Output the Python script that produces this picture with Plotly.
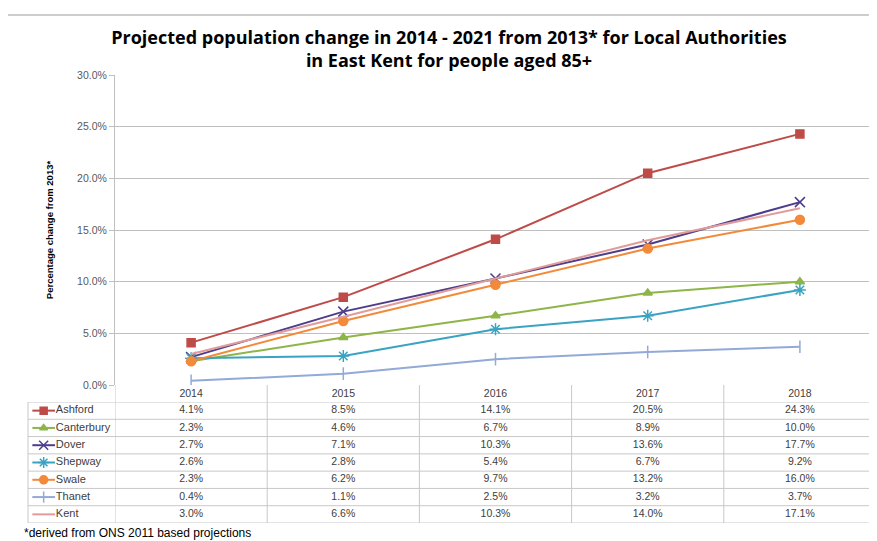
import plotly.graph_objects as go

years = ["2014", "2015", "2016", "2017", "2018"]
series_names = ["Ashford", "Canterbury", "Dover", "Shepway", "Swale", "Thanet", "Kent"]
ashford = [4.1, 8.5, 14.1, 20.5, 24.3]
canterbury = [2.3, 4.6, 6.7, 8.9, 10.0]
dover = [2.7, 7.1, 10.3, 13.6, 17.7]
shepway = [2.6, 2.8, 5.4, 6.7, 9.2]
swale = [2.3, 6.2, 9.7, 13.2, 16.0]
thanet = [0.4, 1.1, 2.5, 3.2, 3.7]
kent = [3.0, 6.6, 10.3, 14.0, 17.1]
y_ticks = [0, 5, 10, 15, 20, 25, 30]
title_text = "Projected population change in 2014 - 2021 from 2013* for Local Authorities<br>in East Kent for people aged 85+"
y_title = "Percentage change from 2013*"
footnote = "*derived from ONS 2011 based projections"

values = [ashford, canterbury, dover, shepway, swale, thanet, kent]
colors = ["#BE4B48", "#8DB548", "#4E3D8A", "#3AA3C2", "#F28A3A", "#93A9D8", "#E09C9A"]
symbols = ["square", "triangle-up", "x-thin-open", "asterisk-open", "circle", "line-ns-open", None]
msizes = [8, 8, 10, 10, 9, 9, 0]

W, H = 877, 541
OFF = 8  # page body margin
def px(x): return (x - OFF) / W
def py(y): return 1 - (y - OFF) / H

FONT = "Liberation Sans"
TFONT = "Open Sans"
TXT = "#404040"
GRID = "#BFBFBF"

fig = go.Figure()

for name, vals, c, s, ms in zip(series_names, values, colors, symbols, msizes):
    mode = "lines+markers" if s else "lines"
    mk = dict(color=c, size=ms, line=dict(color=c, width=1.5))
    if s:
        mk["symbol"] = s
    fig.add_trace(go.Scatter(x=years, y=vals, mode=mode, name=name,
                             line=dict(color=c, width=2), marker=mk,
                             showlegend=False, xaxis="x", yaxis="y"))

# table values
for i, (name, vals) in enumerate(zip(series_names, values)):
    fig.add_trace(go.Scatter(x=list(range(len(years))), y=[i] * len(years),
                             text=[f"{v:.1f}%" for v in vals], mode="text",
                             textfont=dict(family=FONT, size=10.5, color=TXT),
                             showlegend=False, xaxis="x2", yaxis="y2", hoverinfo="skip"))

# legend keys inside table
for i, (name, c, s, ms) in enumerate(zip(series_names, colors, symbols, msizes)):
    fig.add_trace(go.Scatter(x=[0.05, 0.31], y=[i, i], mode="lines",
                             line=dict(color=c, width=2), showlegend=False,
                             xaxis="x3", yaxis="y2", hoverinfo="skip"))
    if s:
        fig.add_trace(go.Scatter(x=[0.18], y=[i], mode="markers",
                                 marker=dict(color=c, size=max(ms - 1, 6), symbol=s,
                                             line=dict(color=c, width=1.5)),
                                 showlegend=False, xaxis="x3", yaxis="y2", hoverinfo="skip"))
    fig.add_trace(go.Scatter(x=[0.32], y=[i], text=[name], mode="text", textposition="middle right",
                             textfont=dict(family=FONT, size=11, color=TXT),
                             showlegend=False, xaxis="x3", yaxis="y2", hoverinfo="skip"))

shapes = []
line_c = "#C8C8C8"
shapes.append(dict(type="line", xref="paper", yref="paper", x0=0, x1=1, y0=py(15), y1=py(15),
                   line=dict(color="#BDBDBD", width=1.5)))
for k in range(len(series_names) + 1):
    shapes.append(dict(type="line", xref="paper", yref="y2", x0=px(28), x1=px(876),
                       y0=k - 0.5, y1=k - 0.5, line=dict(color=line_c, width=1)))
for k in range(len(years) + 1):
    shapes.append(dict(type="line", xref="x2", yref="paper", x0=k - 0.5, x1=k - 0.5,
                       y0=py(385), y1=py(523), line=dict(color=line_c, width=1)))
shapes.append(dict(type="line", xref="paper", yref="y2", x0=px(28), x1=px(28),
                   y0=-0.5, y1=len(series_names) - 0.5, line=dict(color=line_c, width=1)))

fig.update_layout(
    width=W, height=H,
    margin=dict(l=0, r=0, t=0, b=0, autoexpand=False),
    paper_bgcolor="white", plot_bgcolor="white",
    font=dict(family=FONT, size=9, color=TXT),
    title=dict(text=title_text, x=px(449), xanchor="center", y=py(44), yanchor="middle",
               font=dict(family=TFONT, size=18, color="#000000", weight="bold")),
    xaxis=dict(domain=[px(115), px(876)], range=[-0.5, 4.5], type="category",
               showgrid=False, showline=False, ticks="", zeroline=False,
               tickfont=dict(family=FONT, size=10.5, color=TXT), anchor="y", ticklabelstandoff=0),
    yaxis=dict(domain=[py(385), py(75)], range=[0, 30], tickvals=y_ticks,
               ticktext=[f"{v:.1f}%" for v in y_ticks],
               showgrid=True, gridcolor=GRID, gridwidth=1, zeroline=False,
               showline=True, linecolor=GRID, linewidth=1, ticks="outside", ticklen=5, tickcolor=GRID,
               tickfont=dict(family=FONT, size=10.5, color="#595959"),
               title=dict(text=y_title, font=dict(family=FONT, size=9.5, color="#000000", weight="bold"), standoff=21),
               anchor="x"),
    xaxis2=dict(domain=[px(115), px(876)], range=[-0.5, 4.5], visible=False, anchor="y2"),
    yaxis2=dict(domain=[py(523), py(402)], range=[len(series_names) - 0.5, -0.5], visible=False, anchor="x2"),
    xaxis3=dict(domain=[px(28), px(115)], range=[0, 1], visible=False, anchor="y2"),
    shapes=shapes,
    annotations=[dict(text=footnote, xref="paper", yref="paper", x=px(22), y=py(533),
                      xanchor="left", yanchor="middle", showarrow=False,
                      font=dict(family=FONT, size=12, color="#000000"))],
)

fig.write_html("out.html")
